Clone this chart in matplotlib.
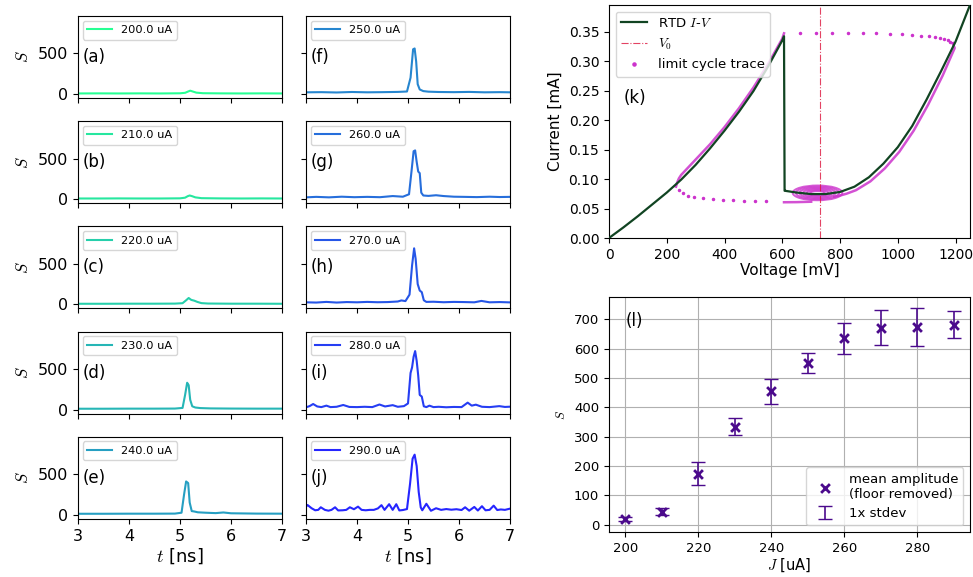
import matplotlib
matplotlib.use("Agg")
import matplotlib.pyplot as plt
from matplotlib.patches import Ellipse

plt.rcParams['mathtext.fontset'] = 'cm'

# ---- spike traces, one per bias current (uA) ----
currents = [200, 210, 220, 230, 240, 250, 260, 270, 280, 290]
tags = ['(a)', '(b)', '(c)', '(d)', '(e)', '(f)', '(g)', '(h)', '(i)', '(j)']

t_200 = [3.0, 3.4, 3.8, 4.2, 4.6, 5.0, 5.1, 5.16, 5.2, 5.25, 5.32, 5.45, 5.8, 6.2, 6.6, 7.0]
s_200 = [6, 7, 6, 7, 6, 8, 14, 30, 40, 30, 16, 9, 7, 6, 7, 6]
t_210 = [3.0, 3.4, 3.8, 4.2, 4.6, 5.0, 5.1, 5.15, 5.19, 5.24, 5.3, 5.42, 5.8, 6.2, 6.6, 7.0]
s_210 = [8, 8, 9, 8, 8, 10, 18, 36, 45, 36, 22, 12, 9, 8, 9, 8]
t_220 = [3.0, 3.5, 4.0, 4.5, 4.9, 5.05, 5.12, 5.17, 5.22, 5.28, 5.34, 5.42, 5.55, 6.0, 6.5, 7.0]
s_220 = [7, 7, 8, 8, 9, 14, 50, 78, 55, 45, 30, 15, 10, 8, 8, 7]
t_230 = [3.0, 3.5, 4.0, 4.5, 4.9, 5.05, 5.1, 5.14, 5.17, 5.2, 5.24, 5.3, 5.4, 5.6, 6.0, 6.5, 7.0]
s_230 = [10, 10, 11, 11, 12, 20, 180, 330, 300, 120, 40, 25, 18, 14, 12, 11, 11]
t_240 = [3.0, 3.5, 4.0, 4.5, 4.9, 5.03, 5.08, 5.12, 5.16, 5.19, 5.23, 5.28, 5.35, 5.5, 5.7,
         5.85, 6.0, 6.5, 7.0]
s_240 = [12, 12, 13, 13, 14, 25, 250, 410, 390, 150, 45, 40, 30, 25, 20, 28, 18, 14, 13]
t_250 = [3.0, 3.3, 3.6, 3.9, 4.2, 4.5, 4.8, 4.98, 5.05, 5.1, 5.13, 5.16, 5.19, 5.23, 5.3,
         5.4, 5.6, 5.9, 6.2, 6.5, 6.8, 7.0]
s_250 = [20, 22, 18, 24, 20, 22, 25, 30, 200, 550, 560, 400, 120, 55, 35, 28, 24, 22, 25,
         20, 22, 20]
t_260 = [3.0, 3.2, 3.45, 3.7, 3.95, 4.2, 4.45, 4.7, 4.9, 5.02, 5.07, 5.11, 5.14, 5.17, 5.2,
         5.23, 5.26, 5.3, 5.4, 5.55, 5.7, 5.9, 6.1, 6.35, 6.6, 6.8, 7.0]
s_260 = [22, 28, 22, 30, 24, 28, 24, 38, 30, 60, 350, 590, 600, 460, 340, 320, 80, 45, 40,
         48, 38, 30, 28, 25, 30, 26, 28]
t_270 = [3.0, 3.2, 3.4, 3.6, 3.8, 4.0, 4.2, 4.4, 4.6, 4.8, 4.87, 4.95, 5.03, 5.08, 5.12,
         5.15, 5.19, 5.23, 5.27, 5.31, 5.36, 5.5, 5.7, 5.9, 6.1, 6.3, 6.44, 6.6, 6.8, 7.0]
s_270 = [25, 22, 30, 22, 28, 25, 30, 26, 28, 35, 48, 40, 120, 480, 690, 560, 250, 170, 150,
         50, 30, 32, 26, 30, 28, 25, 42, 25, 28, 24]
t_280 = [3.0, 3.07, 3.14, 3.22, 3.3, 3.4, 3.48, 3.6, 3.73, 3.85, 4.0, 4.15, 4.3, 4.44, 4.55,
         4.7, 4.8, 4.92, 5.0, 5.05, 5.08, 5.11, 5.14, 5.17, 5.2, 5.23, 5.27, 5.31, 5.36,
         5.42, 5.5, 5.6, 5.75, 5.9, 6.05, 6.17, 6.25, 6.33, 6.45, 6.6, 6.79, 6.9, 7.0]
s_280 = [28, 42, 68, 38, 30, 48, 30, 34, 56, 32, 30, 34, 30, 62, 38, 54, 34, 42, 75, 450,
         520, 650, 720, 600, 420, 180, 160, 40, 30, 48, 30, 34, 28, 32, 30, 85, 48, 60, 34,
         30, 42, 32, 35]
t_290 = [3.0, 3.03, 3.11, 3.18, 3.24, 3.29, 3.37, 3.44, 3.5, 3.57, 3.63, 3.72, 3.79, 3.86,
         3.94, 4.02, 4.09, 4.17, 4.25, 4.33, 4.41, 4.48, 4.54, 4.63, 4.70, 4.77, 4.83, 4.9,
         4.98, 5.04, 5.09, 5.13, 5.17, 5.21, 5.25, 5.28, 5.36, 5.45, 5.55, 5.65, 5.75, 5.85,
         5.95, 6.05, 6.12, 6.2, 6.3, 6.37, 6.45, 6.52, 6.6, 6.68, 6.75, 6.82, 6.9, 7.0]
s_290 = [100, 120, 80, 55, 60, 92, 60, 50, 60, 92, 53, 55, 60, 92, 68, 100, 60, 55, 60, 60,
         78, 118, 60, 130, 60, 130, 53, 58, 70, 380, 690, 740, 600, 280, 90, 55, 135, 49,
         80, 60, 70, 62, 68, 58, 92, 50, 96, 52, 105, 55, 60, 112, 58, 65, 60, 75]

trace_t = [t_200, t_210, t_220, t_230, t_240, t_250, t_260, t_270, t_280, t_290]
trace_s = [s_200, s_210, s_220, s_230, s_240, s_250, s_260, s_270, s_280, s_290]

# ---- RTD I-V curve (mV, mA) ----
iv_v = [0, 50, 100, 150, 200, 250, 300, 350, 400, 450, 500, 550, 600, 606, 608, 610,
        650, 700, 750, 800, 850, 900, 950, 1000, 1050, 1100, 1150, 1200, 1250]
iv_i = [0, 0.018, 0.037, 0.057, 0.077, 0.099, 0.124, 0.152, 0.182, 0.214, 0.249, 0.290,
        0.335, 0.342, 0.080, 0.080, 0.077, 0.0745, 0.0745, 0.078, 0.087, 0.103, 0.126,
        0.154, 0.190, 0.235, 0.283, 0.333, 0.395]
v0 = 730

# limit cycle: slow segments
lc_left_v = [232, 236, 242, 250, 275, 300, 350, 400, 450, 500, 550, 600, 606]
lc_left_i = [0.087, 0.094, 0.101, 0.107, 0.120, 0.133, 0.159, 0.188, 0.220, 0.255, 0.294,
             0.338, 0.347]
lc_right_v = [1190, 1197, 1155, 1105, 1055, 1005, 955, 905, 855, 822, 800, 780]
lc_right_i = [0.330, 0.322, 0.275, 0.226, 0.182, 0.146, 0.118, 0.096, 0.081, 0.075, 0.072,
              0.070]
lc_bottom_v = [700, 650, 606]
lc_bottom_i = [0.0615, 0.0608, 0.0606]
ring_w = [172, 150, 125, 100, 75, 50]
ring_h = [0.025, 0.021, 0.017, 0.013, 0.009, 0.006]
ring_c = (722, 0.0765)
# limit cycle: fast jumps (sparse samples)
jump_v = [661, 716, 772, 826, 878, 926, 973, 1014, 1049, 1080, 1107, 1130, 1147, 1161, 1173,
          1182, 1190, 544, 504, 469, 428, 394, 359, 324, 295, 272, 255, 241]
jump_i = [0.347, 0.348, 0.348, 0.347, 0.347, 0.347, 0.346, 0.345, 0.344, 0.343, 0.342,
          0.341, 0.339, 0.337, 0.335, 0.333, 0.330, 0.0619, 0.0619, 0.0624, 0.0636, 0.0647,
          0.0658, 0.0675, 0.0692, 0.072, 0.076, 0.0806]

# ---- amplitude vs bias ----
amp_j = [200, 210, 220, 230, 240, 250, 260, 270, 280, 290]
amp_mean = [20, 45, 174, 335, 455, 551, 635, 672, 675, 682]
amp_std = [8, 13, 39, 28, 42, 35, 54, 60, 65, 46]

W, H = 973, 577
fig = plt.figure(figsize=(W / 100, H / 100), dpi=100)


def px_axes(l, t, r, b):
    return fig.add_axes([l / W, 1 - b / H, (r - l) / W, (b - t) / H])


cmap = plt.cm.winter
for k, (cur, tag, tt, ss) in enumerate(zip(currents, tags, trace_t, trace_s)):
    col, row = divmod(k, 5)
    left = 78 if col == 0 else 306
    top = 16 + 105.2 * row
    ax = px_axes(left, top, left + 204, top + 82)
    color = cmap(1 - (cur - 200) / 90)
    ax.plot(tt, ss, color=color, lw=1.5, alpha=0.85, label='%.1f uA' % cur)
    ax.set_xlim(3, 7)
    ax.set_ylim(-50, 960)
    ax.set_xticks([3, 4, 5, 6, 7])
    ax.set_yticks([0, 500])
    ax.tick_params(labelsize=11.5)
    ax.legend(loc='upper left', fontsize=8.2, handlelength=2.2, borderaxespad=0.4)
    ax.text(0.025, 0.5, tag, transform=ax.transAxes, fontsize=12, va='center')
    if col == 0:
        ax.set_ylabel('$S$', fontsize=12)
    else:
        ax.tick_params(labelleft=False)
    if row < 4:
        ax.tick_params(labelbottom=False)
    else:
        ax.set_xlabel('$t$ [ns]', fontsize=13, labelpad=2)

# ---- (k) I-V with limit cycle ----
axk = px_axes(609, 5, 970, 238)
mag = '#cc33cc'
for vv, ii in [(lc_left_v, lc_left_i), (lc_right_v, lc_right_i), (lc_bottom_v, lc_bottom_i)]:
    axk.plot(vv, ii, color=mag, lw=1.8, alpha=0.85, zorder=2)
for w, h in zip(ring_w, ring_h):
    axk.add_patch(Ellipse(ring_c, w, h, fill=False, edgecolor=mag, lw=1.4, alpha=0.8, zorder=2))
lc_dots, = axk.plot(jump_v, jump_i, '.', color=mag, ms=3, zorder=2)
iv_line, = axk.plot(iv_v, iv_i, color='#114422', lw=1.6, zorder=3)
v0_line = axk.axvline(v0, color='crimson', lw=0.8, ls='-.', alpha=0.8)
axk.set_xlim(0, 1250)
axk.set_ylim(0, 0.395)
axk.set_xticks([0, 200, 400, 600, 800, 1000, 1200])
axk.set_yticks([0, 0.05, 0.10, 0.15, 0.20, 0.25, 0.30, 0.35])
axk.yaxis.set_major_formatter(matplotlib.ticker.FormatStrFormatter('%.2f'))
axk.tick_params(labelsize=10)
axk.set_xlabel('Voltage [mV]', fontsize=11, labelpad=1)
axk.set_ylabel('Current [mA]', fontsize=11)
axk.legend([iv_line, v0_line, lc_dots], ['RTD $I$-$V$', '$V_0$', 'limit cycle trace'],
           loc='upper left', fontsize=9.5, markerscale=1.5)
axk.text(0.04, 0.6, '(k)', transform=axk.transAxes, fontsize=12, va='center')

# ---- (l) mean amplitude vs bias ----
axl = px_axes(609, 297, 970, 532)
ind = '#4b0a8c'
axl.grid(True, color='#b0b0b0', lw=0.8)
axl.set_axisbelow(True)
eb = axl.errorbar(amp_j, amp_mean, yerr=amp_std, fmt='none', ecolor=ind, capsize=5, lw=1.2)
sc = axl.scatter(amp_j, amp_mean, marker='x', color=ind, s=40, lw=2, zorder=3)
axl.set_xticks([200, 220, 240, 260, 280])
axl.set_yticks([0, 100, 200, 300, 400, 500, 600, 700])
axl.tick_params(labelsize=9.5)
axl.set_xlabel('$J$ [uA]', fontsize=10.5, labelpad=1)
axl.set_ylabel('$S$', fontsize=9)
axl.legend([sc, eb], ['mean amplitude\n(floor removed)', '1x stdev'], loc='lower right',
           fontsize=9.5)
axl.text(0.045, 0.9, '(l)', transform=axl.transAxes, fontsize=12, va='center')

fig.savefig('out.png', dpi=100)
